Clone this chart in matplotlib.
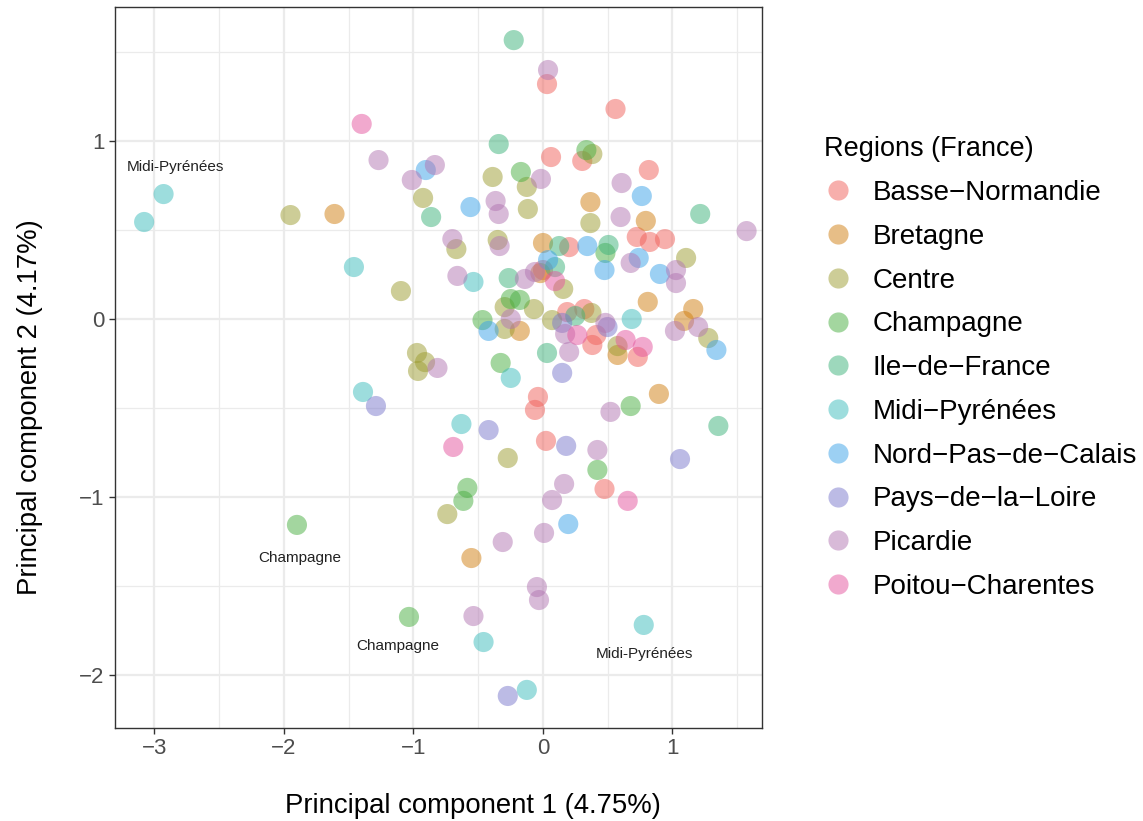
import numpy as np
import matplotlib
matplotlib.use("Agg")
import matplotlib.pyplot as plt
from matplotlib.lines import Line2D
from matplotlib.ticker import MultipleLocator

plt.rcParams["font.family"] = ["Liberation Sans", "DejaVu Sans"]

# ---------------- data (PC1, PC2) per region ----------------
regions = ["Basse-Normandie", "Bretagne", "Centre", "Champagne", "Ile-de-France",
           "Midi-Pyrénées", "Nord-Pas-de-Calais", "Pays-de-la-Loire", "Picardie",
           "Poitou-Charentes"]

basse_x = [0.031, 0.560, 0.062, 0.303, 0.817, 0.724, 0.825, 0.942, 0.202, 0.0,
           0.187, 0.319, 0.381, 0.412, 0.732, -0.039, -0.062, 0.023, 0.475]
basse_y = [1.320, 1.180, 0.910, 0.888, 0.837, 0.461, 0.433, 0.449, 0.404, 0.275,
           0.039, 0.056, -0.146, -0.090, -0.213, -0.438, -0.511, -0.685, -0.955]

bret_x = [-1.61, 0.366, 0.794, 0.0, -0.02, -0.179, 0.809, 1.160, 1.089, 0.576, 0.895, -0.553]
bret_y = [0.590, 0.657, 0.551, 0.427, 0.258, -0.067, 0.096, 0.056, -0.011, -0.202, -0.421, -1.343]

centre_x = [-1.95, -1.097, -0.973, -0.911, -0.965, -0.926, -0.389, -0.125, -0.117, 0.381,
            0.366, -0.669, -0.350, 0.156, -0.296, -0.070, -0.296, 0.070, 0.374, 0.576,
            1.105, 1.276, -0.272, -0.739]
centre_y = [0.584, 0.157, -0.191, -0.242, -0.292, 0.680, 0.798, 0.742, 0.618, 0.927,
            0.539, 0.393, 0.444, 0.169, 0.067, 0.056, -0.056, -0.006, 0.034, -0.152,
            0.343, -0.107, -0.781, -1.096]

champ_x = [0.335, -0.171, -0.249, -0.179, -0.467, 0.482, -0.327, 0.677, 0.420, -0.584,
           -0.615, -1.90, -1.035]
champ_y = [0.949, 0.826, 0.112, 0.107, -0.006, 0.371, -0.247, -0.489, -0.848, -0.949,
           -1.022, -1.157, -1.674]

idf_x = [-0.226, -0.342, -0.864, 1.214, 0.125, 0.506, 0.093, -0.265, 0.249, 0.031, 1.354]
idf_y = [1.567, 0.983, 0.573, 0.590, 0.410, 0.416, 0.292, 0.230, 0.017, -0.191, -0.601]

midi_x = [-2.93, -3.08, -1.46, -1.39, -0.537, 0.685, -0.249, -0.630, -0.459, 0.778, -0.125]
midi_y = [0.702, 0.545, 0.292, -0.410, 0.208, 0.0, -0.331, -0.590, -1.815, -1.719, -2.084]

nord_x = [-0.905, -0.560, 0.763, 0.039, 0.342, 0.475, 0.739, 0.903, -0.420, 1.339, 0.195]
nord_y = [0.837, 0.629, 0.691, 0.331, 0.410, 0.275, 0.343, 0.253, -0.067, -0.174, -1.152]

pays_x = [-1.29, 0.148, 0.498, 0.148, -0.420, 0.179, 1.058, -0.272]
pays_y = [-0.489, -0.022, -0.045, -0.303, -0.624, -0.713, -0.787, -2.118]

pic_x = [0.039, -1.27, -0.835, -1.013, -0.016, 0.607, -0.366, -0.342, 0.599, 1.572,
         -0.700, -0.335, -0.661, -0.140, -0.062, 0.677, 1.027, 1.027, -0.249, 0.171,
         0.482, 1.019, 1.198, 0.202, -0.815, 0.521, 0.420, 0.163, 0.070, 0.008,
         -0.311, -0.047, -0.031, -0.537]
pic_y = [1.399, 0.893, 0.865, 0.781, 0.787, 0.764, 0.663, 0.590, 0.573, 0.494,
         0.449, 0.410, 0.242, 0.225, 0.264, 0.315, 0.275, 0.202, 0.0, -0.084,
         -0.022, -0.067, -0.045, -0.185, -0.275, -0.522, -0.736, -0.927, -1.017, -1.202,
         -1.253, -1.506, -1.579, -1.669]

poit_x = [-1.40, 0.093, 0.265, 0.638, 0.770, -0.693, 0.654]
poit_y = [1.096, 0.213, -0.090, -0.118, -0.157, -0.719, -1.022]

label_text = ["Midi-Pyrénées", "Champagne", "Champagne", "Midi-Pyrénées"]
label_x = [-2.84, -1.88, -1.12, 0.786]
label_y = [0.854, -1.343, -1.837, -1.882]

colours = ["#f0605a", "#d07e10", "#9c9c30", "#48ae40", "#3cb27a",
           "#3cbcbc", "#3aa2e8", "#7a78cc", "#b276b2", "#e4559e"]

xs = [basse_x, bret_x, centre_x, champ_x, idf_x, midi_x, nord_x, pays_x, pic_x, poit_x]
ys = [basse_y, bret_y, centre_y, champ_y, idf_y, midi_y, nord_y, pays_y, pic_y, poit_y]

# ---------------- plot ----------------
fig = plt.figure(figsize=(11.43, 8.21), dpi=100)
# panel from x=115..762 px, y=7..728 px
ax = fig.add_axes([115 / 1143, 1 - 728 / 821, 647 / 1143, 721 / 821])

for x, y, c in zip(xs, ys, colours):
    ax.scatter(x, y, s=210, color=c, alpha=0.5, edgecolors="none", zorder=3)

for t, lx, ly in zip(label_text, label_x, label_y):
    ax.text(lx, ly, t, fontsize=11, ha="center", va="center", color="#222222", zorder=4)

ax.set_xlim(-3.305, (762 - 543) / 129.5)
ax.set_ylim(-2.298, 1.753)
ax.xaxis.set_major_locator(MultipleLocator(1))
ax.yaxis.set_major_locator(MultipleLocator(1))
ax.xaxis.set_minor_locator(MultipleLocator(0.5))
ax.yaxis.set_minor_locator(MultipleLocator(0.5))
ax.grid(which="major", color="#ebebeb", lw=1.6, zorder=0)
ax.grid(which="minor", color="#ebebeb", lw=0.9, zorder=0)
ax.set_axisbelow(True)
ax.tick_params(which="minor", length=0)
ax.tick_params(which="major", length=4, width=1, color="#333333",
               labelsize=16, labelcolor="#4d4d4d")
for sp in ax.spines.values():
    sp.set_color("#333333")
    sp.set_linewidth(1)

ax.set_xlabel("Principal component 1 (4.75%)", fontsize=19.8)
ax.set_ylabel("Principal component 2 (4.17%)", fontsize=19.8)
ax.xaxis.set_label_coords(0.553, -0.09)
ax.yaxis.set_label_coords(-0.112, 0.445)

handles = [Line2D([0], [0], marker="o", ls="", markersize=14.5, markerfacecolor=c,
                  markeredgecolor="none", alpha=0.5) for c in colours]
leg_labels = [r.replace("-", "\u2212") for r in regions]
fig.legend(handles, leg_labels, loc="upper left", bbox_to_anchor=(0.7085, 0.851),
           frameon=False, title="Regions (France)", fontsize=20, title_fontsize=19.5,
           alignment="left", labelspacing=0.64, handletextpad=0.75, handlelength=1.0,
           borderpad=0)

fig.savefig("out.png", dpi=100)
